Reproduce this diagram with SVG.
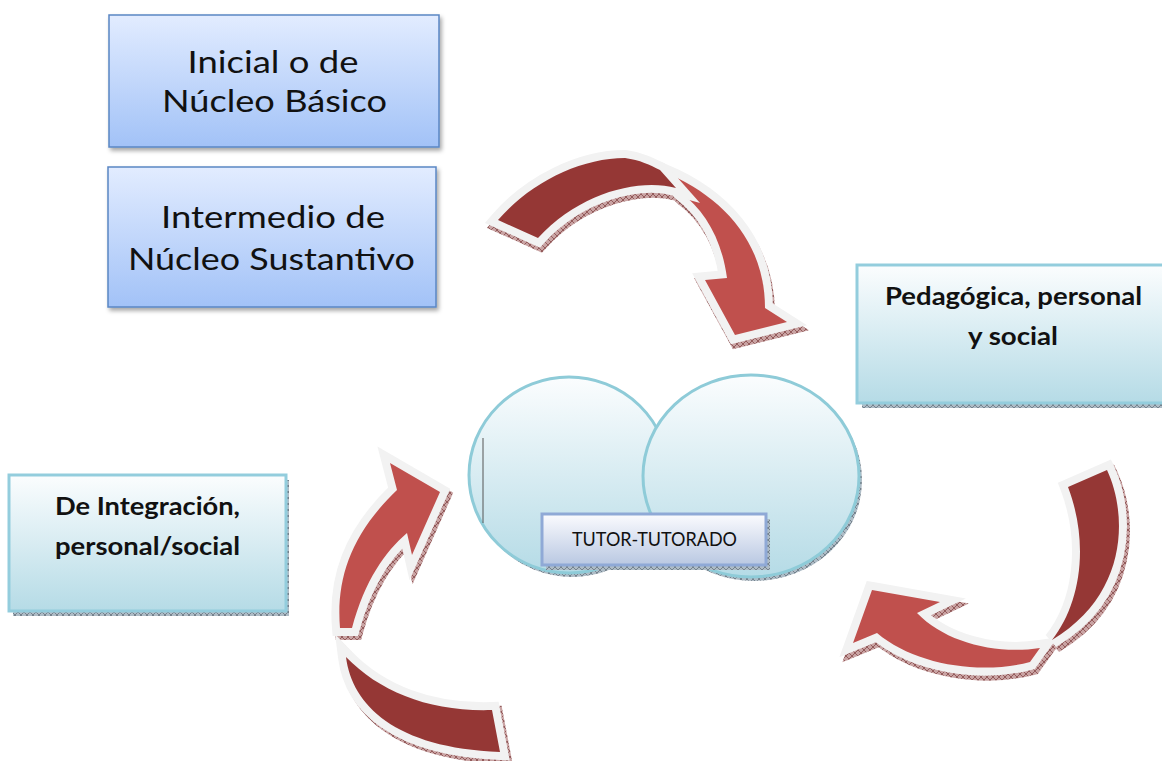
<svg xmlns="http://www.w3.org/2000/svg" width="1162" height="761" viewBox="0 0 1162 761">
<style>
.blue{stroke:#5a86c4;stroke-width:1.5}
.teal{stroke:#93cddd;stroke-width:3}
.t1{font-family:Lato,"Open Sans","Liberation Sans",sans-serif;font-size:31px;fill:#111}
.tb{font-family:Lato,"Open Sans","Liberation Sans",sans-serif;font-weight:bold;font-size:24px;fill:#111}
.ts{font-family:Lato,"Open Sans","Liberation Sans",sans-serif;font-size:19.5px;fill:#111}
.dark{fill:#953735;stroke:#f2f2f2;stroke-width:16;paint-order:stroke;stroke-linejoin:miter}
.light{fill:#c0504d;stroke:#f2f2f2;stroke-width:16;paint-order:stroke;stroke-linejoin:miter}
.sh path{fill:url(#hatchR);stroke:url(#hatchR);stroke-width:16;stroke-linejoin:miter}
</style>
<defs>
<linearGradient id="gBlue" x1="0" y1="0" x2="0" y2="1"><stop offset="0" stop-color="#e2ecff"/><stop offset="1" stop-color="#a2c2f7"/></linearGradient>
<linearGradient id="gTeal" x1="0" y1="0" x2="0" y2="1"><stop offset="0" stop-color="#fbfdfe"/><stop offset="1" stop-color="#b5dbe6"/></linearGradient>
<linearGradient id="gTut" x1="0" y1="0" x2="0" y2="1"><stop offset="0" stop-color="#fbfbfe"/><stop offset="1" stop-color="#b9c8e2"/></linearGradient>
<pattern id="hatchR" width="6" height="6" patternUnits="userSpaceOnUse"><rect width="6" height="6" fill="#c9a3a3"/><path d="M0,0L6,6M6,0L0,6" stroke="#6e2a2a" stroke-width="0.6"/></pattern>
<pattern id="hatchB" width="6" height="6" patternUnits="userSpaceOnUse"><rect width="6" height="6" fill="#aebcc6"/><path d="M0,0L6,6M6,0L0,6" stroke="#4f5a66" stroke-width="0.6"/></pattern>
<filter id="ds" x="-10%" y="-10%" width="125%" height="130%"><feDropShadow dx="2" dy="3" stdDeviation="2" flood-color="#000" flood-opacity="0.35"/></filter>
</defs>
<rect width="1162" height="761" fill="#ffffff"/>

<g id="box-inicial">
<rect x="109" y="15" width="330" height="132" fill="url(#gBlue)" class="blue" filter="url(#ds)"/>
<text class="t1" x="273" y="73" text-anchor="middle" textLength="171" lengthAdjust="spacingAndGlyphs">Inicial o de</text>
<text class="t1" x="274.5" y="112" text-anchor="middle" textLength="225" lengthAdjust="spacingAndGlyphs">Núcleo Básico</text>
</g>

<g id="box-intermedio">
<rect x="108" y="167" width="328" height="140" fill="url(#gBlue)" class="blue" filter="url(#ds)"/>
<text class="t1" x="273" y="228" text-anchor="middle" textLength="224" lengthAdjust="spacingAndGlyphs">Intermedio de</text>
<text class="t1" x="271.5" y="270" text-anchor="middle" textLength="287" lengthAdjust="spacingAndGlyphs">Núcleo Sustantivo</text>
</g>

<g id="box-pedagogica">
<rect x="862" y="270" width="310" height="138" fill="url(#hatchB)"/>
<rect x="857" y="265" width="310" height="138" fill="url(#gTeal)" class="teal"/>
<text class="tb" x="1013.5" y="305" text-anchor="middle" textLength="257" lengthAdjust="spacingAndGlyphs">Pedagógica, personal</text>
<text class="tb" x="1013" y="345" text-anchor="middle" textLength="90" lengthAdjust="spacingAndGlyphs">y social</text>
</g>

<g id="box-integracion">
<rect x="13" y="480" width="276" height="136" fill="url(#hatchB)"/>
<rect x="9" y="475" width="277" height="136" fill="url(#gTeal)" class="teal"/>
<text class="tb" x="147.5" y="515" text-anchor="middle" textLength="185" lengthAdjust="spacingAndGlyphs">De Integración,</text>
<text class="tb" x="147.5" y="555" text-anchor="middle" textLength="185" lengthAdjust="spacingAndGlyphs">personal/social</text>
</g>

<g id="tutor-tutorado">
<ellipse cx="572" cy="479" rx="100" ry="98" fill="url(#hatchB)"/>
<ellipse cx="754" cy="480" rx="108" ry="101" fill="url(#hatchB)"/>
<ellipse cx="569" cy="475" rx="100" ry="98" fill="url(#gTeal)" stroke="#8ecbd8" stroke-width="3"/>
<ellipse cx="751" cy="476" rx="108" ry="101" fill="url(#gTeal)" stroke="#8ecbd8" stroke-width="3"/>
<line x1="483" y1="438" x2="483" y2="523" stroke="#555" stroke-width="1"/>
<rect x="546" y="519" width="224" height="51" fill="url(#hatchB)"/>
<rect x="542" y="514" width="224" height="51" fill="url(#gTut)" stroke="#8fa9d6" stroke-width="3"/>
<text class="ts" x="654.5" y="546" text-anchor="middle" textLength="165" lengthAdjust="spacingAndGlyphs">TUTOR-TUTORADO</text>
</g>

<g id="connectors">
<g id="arrow-top">
<g transform="translate(2,5)" class="sh">
<path d="M664,172 C720,195 765,240 765,308 L787,322 L735,335 L705,280 L727,278 C722,240 705,210 680,192 Z"/>
<path d="M498,220 C530,183 580,158 625,158 C640,160 650,165 660,170 L676,188 C640,178 580,192 538,238 Z"/>
</g>
<path class="light" d="M664,172 C720,195 765,240 765,308 L787,322 L735,335 L705,280 L727,278 C722,240 705,210 680,192 Z"/>
<path class="dark" d="M498,220 C530,183 580,158 625,158 C640,160 650,165 660,170 L676,188 C640,178 580,192 538,238 Z"/>
</g>
<g id="arrow-left">
<g transform="translate(3,4)" class="sh">
<path d="M340,628 C336,580 350,535 397,490 L390,463 L440,492 L412,555 L407,533 C385,552 365,580 352,628 Z"/>
<path d="M346,657 C352,705 395,748 500,752 L492,710 C430,712 380,692 346,657 Z"/>
</g>
<path class="light" d="M340,628 C336,580 350,535 397,490 L390,463 L440,492 L412,555 L407,533 C385,552 365,580 352,628 Z"/>
<path class="dark" d="M346,657 C352,705 395,748 500,752 L492,710 C430,712 380,692 346,657 Z"/>
</g>
<g id="arrow-right">
<g transform="translate(3,5)" class="sh">
<path d="M872,590 L940,602 L917,613 C945,642 995,655 1040,648 L1030,662 C980,675 915,665 877,633 L853,643 Z"/>
<path d="M1068,487 L1107,470 C1128,515 1128,595 1052,640 C1080,605 1090,545 1068,487 Z"/>
</g>
<path class="light" d="M872,590 L940,602 L917,613 C945,642 995,655 1040,648 L1030,662 C980,675 915,665 877,633 L853,643 Z"/>
<path class="dark" d="M1068,487 L1107,470 C1128,515 1128,595 1052,640 C1080,605 1090,545 1068,487 Z"/>
</g>
</g>
</svg>
